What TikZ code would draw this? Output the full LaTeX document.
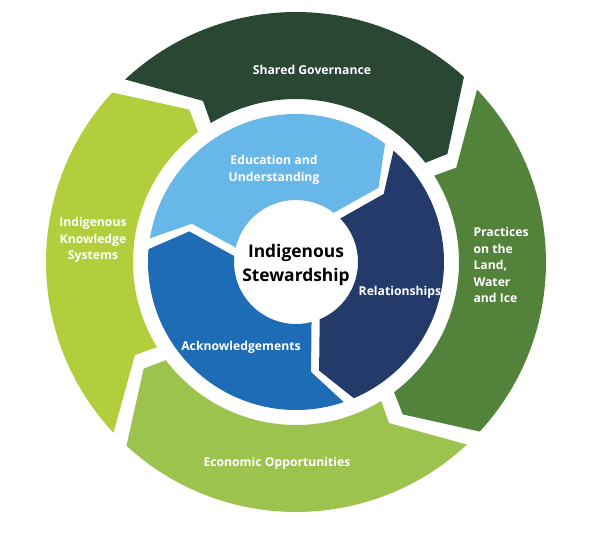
\documentclass[tikz,border=0pt]{standalone}
\usepackage{fontspec}
\setmainfont{Open Sans}
\usepackage{tikz}
\definecolor{govgreen}{HTML}{2A4734}
\definecolor{landgreen}{HTML}{53823A}
\definecolor{econgreen}{HTML}{9DC34F}
\definecolor{knowgreen}{HTML}{B3CE3D}
\definecolor{edublue}{HTML}{68B7E9}
\definecolor{relnavy}{HTML}{243A6B}
\definecolor{ackblue}{HTML}{1D6CB5}

\begin{document}
\begin{tikzpicture}[x=1pt, y=1pt,
        lbl/.style={text=white, font=\bfseries\fontsize{12.2}{16.5}\selectfont, align=center},
        hub/.style={text=black, font=\bfseries\fontsize{17.4}{24}\selectfont, align=center}]
    \useasboundingbox (-296,-271) rectangle (303,262);
    % outer ring
    \fill[govgreen] (133.1:250pt) arc[start angle=133.1, end angle=47.8, radius=250pt] -- (35.5:186pt) -- (37.5:163pt)
        arc[start angle=37.5, end angle=121.5, radius=163pt] -- (120:186pt) -- cycle;
    \fill[landgreen] (43.6:250pt) arc[start angle=43.6, end angle=-42.7, radius=250pt] -- (-55:186pt) -- (-53:163pt)
        arc[start angle=-53, end angle=32, radius=163pt] -- (30.5:186pt) -- cycle;
    \fill[econgreen] (-46.9:250pt) arc[start angle=-46.9, end angle=-132.7, radius=250pt] -- (-145:186pt) -- (-143:163pt)
        arc[start angle=-143, end angle=-58.5, radius=163pt] -- (-60:186pt) -- cycle;
    \fill[knowgreen] (-136.9:250pt) arc[start angle=-136.9, end angle=-222.7, radius=250pt] -- (-235:186pt) -- (-233:163pt)
        arc[start angle=-233, end angle=-148.5, radius=163pt] -- (-150:186pt) -- cycle;
    % inner ring
    \fill[edublue] (170.8:148pt) arc[start angle=170.8, end angle=53, radius=148pt] -- (42:111pt) -- (52.5:62pt)
        arc[start angle=52.5, end angle=166.5, radius=62pt] -- (159.8:111pt) -- cycle;
    \fill[relnavy] (48.8:148pt) arc[start angle=48.8, end angle=-67, radius=148pt] -- (-78:111pt) -- (-67.5:62pt)
        arc[start angle=-67.5, end angle=44.5, radius=62pt] -- (37.8:111pt) -- cycle;
    \fill[ackblue] (-71.2:148pt) arc[start angle=-71.2, end angle=-185, radius=148pt] -- (-196:111pt) -- (-185.5:62pt)
        arc[start angle=-185.5, end angle=-75.5, radius=62pt] -- (-82.2:111pt) -- cycle;
    % labels
    \node[hub] (stewardship) at (0,-3) {Indigenous\\Stewardship};
    \node[lbl] (shared) at (16,192) {Shared Governance};
    \node[lbl, align=left, anchor=west] (practices) at (174,-3) {Practices\\on the\\Land,\\Water\\and Ice};
    \node[lbl] (economic) at (-19,-201) {Economic Opportunities};
    \node[lbl] (knowledge) at (-203,22) {Indigenous\\Knowledge\\Systems};
    \node[lbl] (education) at (-22,92) {Education and\\Understanding};
    \node[lbl] (relations) at (104,-30) {Relationships};
    \node[lbl] (acknowledge) at (-55,-85) {Acknowledgements};
\end{tikzpicture}
\end{document}
